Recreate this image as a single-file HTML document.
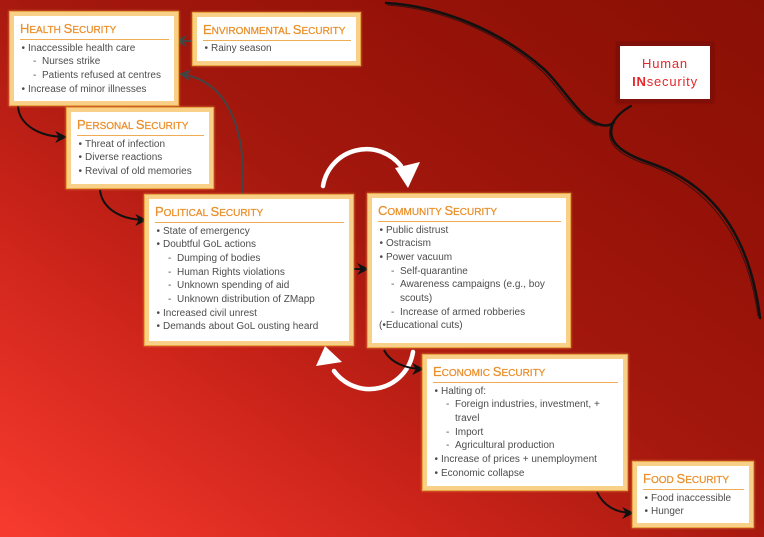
<!DOCTYPE html>
<html><head><meta charset="utf-8"><style>
html,body{margin:0;padding:0}
body{width:764px;height:537px;overflow:hidden;position:relative;font-family:"Liberation Sans",sans-serif;
background:linear-gradient(to top right,#f83b2f 0%,#cc241a 30%,#a5180e 52%,#961208 75%,#8a1005 100%);}
svg.ov{position:absolute;left:0;top:0}
.box{position:absolute;box-sizing:border-box;background:#fff;border:4px solid #f8d088;
box-shadow:0 0 0 1px #e9a446,0 0 2px 1.5px rgba(245,180,80,.5);}
.t{position:absolute;left:6px;right:5px;top:5.5px;font-size:10px;line-height:14px;color:#ea8f2a;padding-bottom:1px;border-bottom:1.5px solid #f0ab55;white-space:nowrap;-webkit-text-stroke:0.25px #ea8f2a}
.t .u{font-size:13px}
.c{position:absolute;left:0;right:0;top:25.5px;font-size:10px;line-height:13.7px;color:#4d4d4d;white-space:nowrap}
.b{position:relative;padding-left:14px}
.b:before{content:"•";position:absolute;left:7.5px;top:0}
.s{position:relative;padding-left:28px}
.s:before{content:"-";position:absolute;left:19px;top:0}
.i{padding-left:28px}
.hum{position:absolute;left:617px;top:43px;width:96px;height:59px;box-sizing:border-box;background:#fff;border:3px solid #7e0f09;
text-align:center;color:#e8262a;font-size:13px;letter-spacing:.8px;line-height:18.3px;padding-top:8.5px;box-shadow:0 0 2px 1px rgba(90,5,0,.4)}
</style></head>
<body>
<svg class="ov" width="764" height="537" viewBox="0 0 764 537">
<defs>
<marker id="bk" viewBox="0 0 10 10" refX="9" refY="5" markerWidth="12" markerHeight="12" markerUnits="userSpaceOnUse" orient="auto">
<path d="M0,0 L10,5 L0,10 L3,5 z" fill="#111"/></marker>
<marker id="gr" viewBox="0 0 10 10" refX="9" refY="5" markerWidth="12" markerHeight="12" markerUnits="userSpaceOnUse" orient="auto">
<path d="M0,0 L10,5 L0,10 L3,5 z" fill="#444"/></marker>
</defs>
<!-- brace -->
<g fill="none" stroke="#111" stroke-linecap="round">
<path d="M386,3 C440,6 500,30 545,70 C565,90 580,118 598,124 C606,127 612,125 614,122" stroke-width="2.6"/>
<path d="M388,5 C442,9 501,33 544,73 C563,93 579,120 597,126" stroke-width="1" opacity=".7"/>
<path d="M612,124 C618,114 624,110 631,106" stroke-width="2.2"/>
<path d="M613,123 C606,140 618,152 650,163 C700,180 748,220 760,318" stroke-width="2.6"/>
<path d="M611,126 C605,142 617,155 649,165 C698,183 745,224 758,316" stroke-width="1" opacity=".7"/>
</g>
<!-- white cycle arrows -->
<g fill="none" stroke="#fff" stroke-width="4.5" stroke-linecap="round">
<path d="M323,186 A44,44 0 0 1 401,166"/>
<path d="M413,352 A44,44 0 0 1 334,371"/>
</g>
<polygon points="395,168 420,162 408,188" fill="#fff"/>
<polygon points="325,346 316,366 342,362" fill="#fff"/>
<!-- gray arrows -->
<g fill="none" stroke="#444" stroke-width="2">
<path d="M242,194 C247,130 228,80 180,74" marker-end="url(#gr)"/>
<path d="M195,41 L176,41" marker-end="url(#gr)"/>
</g>
<!-- black arrows -->
<g fill="none" stroke="#111" stroke-width="2">
<path d="M18,106 C19,124 38,137 66,137" marker-end="url(#bk)"/>
<path d="M100,190 C102,208 120,220 146,220" marker-end="url(#bk)"/>
<path d="M345,269 L368,269" marker-end="url(#bk)"/>
<path d="M384,350 C390,362 405,369 423,369" marker-end="url(#bk)"/>
<path d="M597,492 C603,505 615,513 633,513" marker-end="url(#bk)"/>
</g>
</svg>

<div class="box" style="left:10px;top:12px;width:168px;height:93px">
<div class="t"><span class="u">H</span>EALTH <span class="u">S</span>ECURITY</div>
<div class="c">
<div class="b">Inaccessible health care</div>
<div class="s">Nurses strike</div>
<div class="s">Patients refused at centres</div>
<div class="b">Increase of minor illnesses</div>
</div></div>

<div class="box" style="left:193px;top:13px;width:167px;height:52px">
<div class="t"><span class="u">E</span>NVIRONMENTAL <span class="u">S</span>ECURITY</div>
<div class="c" style="top:24.5px">
<div class="b">Rainy season</div>
</div></div>

<div class="box" style="left:67px;top:108px;width:146px;height:80px">
<div class="t"><span class="u">P</span>ERSONAL <span class="u">S</span>ECURITY</div>
<div class="c">
<div class="b">Threat of infection</div>
<div class="b">Diverse reactions</div>
<div class="b">Revival of old memories</div>
</div></div>

<div class="box" style="left:145px;top:195px;width:208px;height:150px">
<div class="t"><span class="u">P</span>OLITICAL <span class="u">S</span>ECURITY</div>
<div class="c">
<div class="b">State of emergency</div>
<div class="b">Doubtful GoL actions</div>
<div class="s">Dumping of bodies</div>
<div class="s">Human Rights violations</div>
<div class="s">Unknown spending of aid</div>
<div class="s">Unknown distribution of ZMapp</div>
<div class="b">Increased civil unrest</div>
<div class="b">Demands about GoL ousting heard</div>
</div></div>

<div class="box" style="left:368px;top:194px;width:202px;height:153px">
<div class="t"><span class="u">C</span>OMMUNITY <span class="u">S</span>ECURITY</div>
<div class="c">
<div class="b">Public distrust</div>
<div class="b">Ostracism</div>
<div class="b">Power vacuum</div>
<div class="s">Self-quarantine</div>
<div class="s">Awareness campaigns (e.g., boy</div>
<div class="i">scouts)</div>
<div class="s">Increase of armed robberies</div>
<div style="padding-left:7px">(•Educational cuts)</div>
</div></div>

<div class="box" style="left:423px;top:355px;width:204px;height:135px">
<div class="t"><span class="u">E</span>CONOMIC <span class="u">S</span>ECURITY</div>
<div class="c">
<div class="b">Halting of:</div>
<div class="s">Foreign industries, investment, +</div>
<div class="i">travel</div>
<div class="s">Import</div>
<div class="s">Agricultural production</div>
<div class="b">Increase of prices + unemployment</div>
<div class="b">Economic collapse</div>
</div></div>

<div class="box" style="left:633px;top:462px;width:120px;height:65px">
<div class="t"><span class="u">F</span>OOD <span class="u">S</span>ECURITY</div>
<div class="c">
<div class="b">Food inaccessible</div>
<div class="b">Hunger</div>
</div></div>

<div class="hum">Human<br><b>IN</b>security</div>
</body></html>
